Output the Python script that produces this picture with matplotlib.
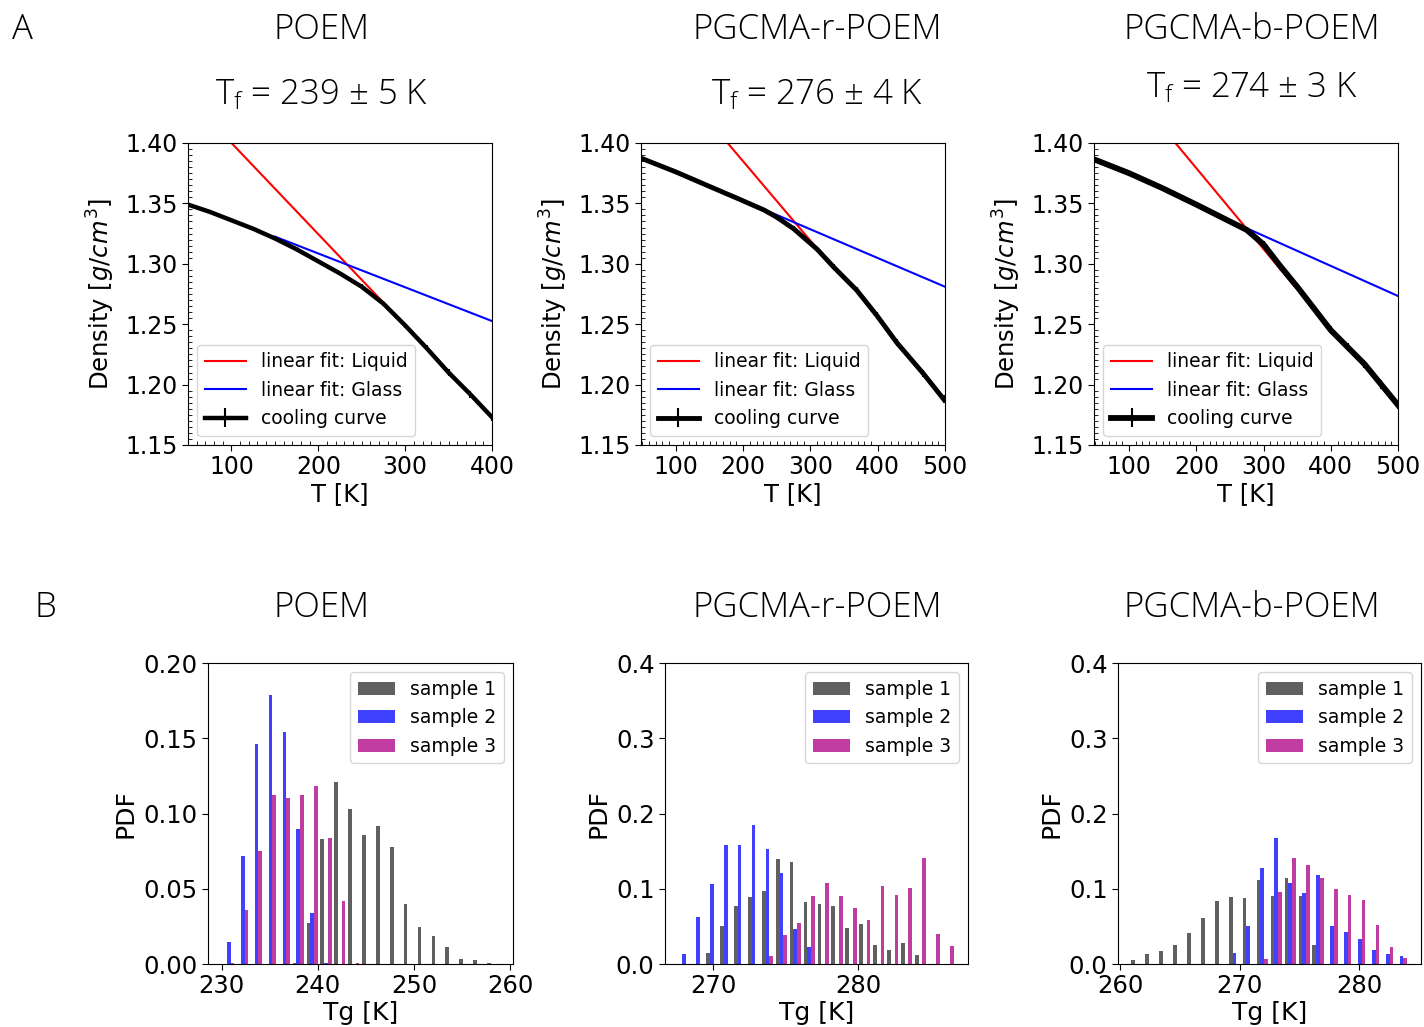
import numpy as np
import matplotlib
matplotlib.use('Agg')
import matplotlib.pyplot as plt
from matplotlib.ticker import MultipleLocator

# ---- data: cooling curves (T [K], density [g/cm3], error) ----
poem_T = [50, 75, 100, 125, 150, 175, 200, 225, 250, 275, 300, 325, 350, 375, 400]
poem_d = [1.349, 1.343, 1.336, 1.329, 1.321, 1.312, 1.302, 1.292, 1.281, 1.267,
          1.249, 1.230, 1.210, 1.192, 1.173]
poem_e = [0.001, 0.001, 0.001, 0.001, 0.001, 0.0015, 0.0015, 0.0015, 0.002, 0.002,
          0.002, 0.0025, 0.003, 0.003, 0.003]
rand_T = [50, 100, 150, 192, 231, 250, 275, 310, 335, 369, 399, 428, 468, 498]
rand_d = [1.387, 1.376, 1.364, 1.354, 1.3445, 1.3385, 1.329, 1.312, 1.297, 1.278,
          1.257, 1.235, 1.209, 1.188]
rand_e = [0.001, 0.001, 0.001, 0.0015, 0.0015, 0.0015, 0.002, 0.002, 0.0025, 0.0025,
          0.003, 0.003, 0.003, 0.003]
block_T = [50, 100, 150, 200, 225, 250, 275, 300, 325, 350, 375, 400, 425, 450, 475, 500]
block_d = [1.386, 1.375, 1.3625, 1.349, 1.342, 1.335, 1.328, 1.316, 1.298, 1.281,
           1.263, 1.245, 1.231, 1.217, 1.200, 1.183]
block_e = [0.002, 0.002, 0.002, 0.002, 0.002, 0.002, 0.0025, 0.0025, 0.003, 0.003,
           0.003, 0.0035, 0.0035, 0.0035, 0.0035, 0.0035]

# linear fits (end points)
liq_T = [[50, 296], [176.8, 334.6], [168.9, 345]]
liq_d = [[1.4378, 1.252], [1.40, 1.2963], [1.40, 1.282]]
gls_T = [[150, 400], [192, 500], [180, 500]]
gls_d = [[1.3225, 1.2526], [1.3542, 1.281], [1.3531, 1.2733]]

names = ['POEM', 'PGCMA-r-POEM', 'PGCMA-b-POEM']
tf_text = ['239 ± 5 K', '276 ± 4 K', '274 ± 3 K']

# ---- data: Tg histograms (20 bins each) ----
bin_start = [230.04, 267.50, 260.80]
bin_width = [1.443, 0.961, 1.168]

poem_s1 = [0, 0, 0, 0, 0, 0.0005, 0.0275, 0.083, 0.121, 0.103, 0.0856, 0.0918,
           0.0776, 0.0397, 0.0246, 0.0186, 0.0113, 0.0031, 0.0027, 0.0004]
poem_s2 = [0.0144, 0.072, 0.146, 0.179, 0.154, 0.090, 0.034, 0.001, 0, 0,
           0, 0, 0, 0, 0, 0, 0, 0, 0, 0]
poem_s3 = [0.001, 0.036, 0.0754, 0.112, 0.110, 0.112, 0.118, 0.084, 0.042, 0.001,
           0, 0, 0, 0, 0, 0, 0, 0, 0, 0]

rand_s1 = [0, 0, 0.015, 0.050, 0.077, 0.0896, 0.0967, 0.1397, 0.1357, 0.083,
           0.080, 0.077, 0.048, 0.053, 0.0257, 0.0186, 0.028, 0.012, 0, 0]
rand_s2 = [0.0133, 0.063, 0.106, 0.158, 0.158, 0.185, 0.153, 0.121, 0.047, 0.023,
           0, 0, 0, 0, 0, 0, 0, 0, 0, 0]
rand_s3 = [0, 0, 0, 0, 0, 0, 0.0106, 0.0386, 0.055, 0.090, 0.1078, 0.0909, 0.074,
           0.058, 0.1038, 0.0914, 0.1016, 0.1415, 0.0404, 0.0244]

block_s1 = [0.0058, 0.0137, 0.0173, 0.0257, 0.0417, 0.0616, 0.0843, 0.0896, 0.0874,
            0.1113, 0.0905, 0.1144, 0.0909, 0.0248, 0, 0, 0, 0, 0, 0]
block_s2 = [0, 0, 0, 0, 0, 0, 0, 0.0142, 0.0506, 0.1273, 0.168, 0.1073, 0.094,
            0.118, 0.0501, 0.0421, 0.0333, 0.0186, 0.0129, 0.0102]
block_s3 = [0, 0, 0, 0, 0, 0, 0, 0, 0, 0.0062, 0.0962, 0.1406, 0.1317, 0.1144,
            0.0993, 0.0918, 0.0851, 0.0519, 0.0231, 0.0075]

plt.rcParams['mathtext.default'] = 'regular'
title_font = dict(family='Open Sans', weight='light', size=25)
title_x = [0.2261, 0.5737, 0.8792]

fig = plt.figure(figsize=(14.24, 10.27), dpi=100)

# ---- row A ----
top_lefts = [0.1320, 0.4501, 0.7683]
curves = [(poem_T, poem_d, poem_e), (rand_T, rand_d, rand_e), (block_T, block_d, block_e)]
line_w = [3.2, 3.5, 4.2]
xmax = [400, 500, 500]
for i in range(3):
    ax = fig.add_axes([top_lefts[i], 0.5667, 0.2135, 0.2941])
    ax.plot(liq_T[i], liq_d[i], color='r', lw=1.5, label='linear fit: Liquid')
    ax.plot(gls_T[i], gls_d[i], color='b', lw=1.5, label='linear fit: Glass')
    T, d, e = curves[i]
    ax.errorbar(T, d, yerr=e, color='k', lw=line_w[i], elinewidth=1.5,
                label='cooling curve')
    ax.set_xlim(50 if i == 0 else 48, xmax[i])
    ax.set_ylim(1.15, 1.40)
    ax.xaxis.set_major_locator(MultipleLocator(100))
    ax.xaxis.set_minor_locator(MultipleLocator(10))
    ax.yaxis.set_major_locator(MultipleLocator(0.05))
    ax.yaxis.set_minor_locator(MultipleLocator(0.005))
    ax.yaxis.set_major_formatter('{x:.2f}')
    ax.tick_params(which='major', direction='out', length=4, labelsize=17)
    ax.tick_params(which='minor', direction='in', length=3, width=0.6)
    ax.set_xlabel('T [K]', fontsize=17.5, labelpad=2)
    ax.set_ylabel('Density [$\\it{g/cm^3}$]', fontsize=17.5, labelpad=6)
    ax.legend(loc='lower left', fontsize=13.5, handlelength=2.2)
    fig.text(title_x[i], 0.971, names[i], ha='center', va='center', **title_font)
    fig.text(title_x[i], 0.9075 if i < 2 else 0.914, 'T$_{f}$ = ' + tf_text[i],
             ha='center', va='center', **title_font)

fig.text(0.0155, 0.971, 'A', ha='center', va='center', **title_font)
fig.text(0.0316, 0.408, 'B', ha='center', va='center', **title_font)

# ---- row B ----
bot_rects = [[0.1461, 0.0613, 0.2142, 0.2931],
             [0.4670, 0.0613, 0.2128, 0.2931],
             [0.7851, 0.0613, 0.2128, 0.2931]]
hists = [(poem_s1, poem_s2, poem_s3), (rand_s1, rand_s2, rand_s3),
         (block_s1, block_s2, block_s3)]
xlims = [(228.6, 260.3), (266.67, 287.6), (259.8, 285.2)]
ylims = [0.20, 0.4, 0.4]
colors = ['#606060', '#4040ff', '#c03ca0']
labels = ['sample 1', 'sample 2', 'sample 3']
for i in range(3):
    ax = fig.add_axes(bot_rects[i])
    edges = bin_start[i] + bin_width[i] * np.arange(21)
    centers = (edges[:-1] + edges[1:]) / 2
    ax.hist([centers] * 3, bins=edges, weights=list(hists[i]), color=colors,
            label=labels)
    ax.set_xlim(*xlims[i])
    ax.set_ylim(0, ylims[i])
    if i == 0:
        ax.yaxis.set_major_locator(MultipleLocator(0.05))
        ax.yaxis.set_major_formatter('{x:.2f}')
    else:
        ax.yaxis.set_major_locator(MultipleLocator(0.1))
        ax.yaxis.set_major_formatter('{x:.1f}')
    ax.xaxis.set_major_locator(MultipleLocator(10))
    ax.tick_params(labelsize=17.5, length=4)
    ax.set_xlabel('Tg [K]', fontsize=18, labelpad=2)
    ax.set_ylabel('PDF', fontsize=18, labelpad=4)
    ax.legend(loc='upper right', fontsize=13.5)
    fig.text(title_x[i], 0.408, names[i], ha='center', va='center', **title_font)

fig.savefig('out.png', dpi=100)
